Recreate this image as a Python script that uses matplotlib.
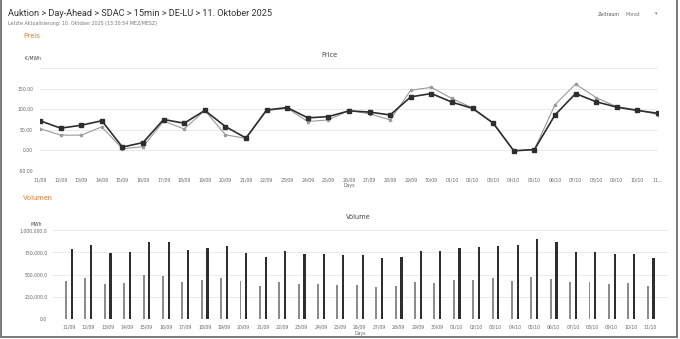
import matplotlib
matplotlib.use("Agg")
import matplotlib.pyplot as plt
from matplotlib.lines import Line2D
import numpy as np

days = ["11/09", "12/09", "13/09", "14/09", "15/09", "16/09", "17/09", "18/09",
        "19/09", "20/09", "21/09", "22/09", "23/09", "24/09", "25/09", "26/09",
        "27/09", "28/09", "29/09", "30/09", "01/10", "02/10", "03/10", "04/10",
        "05/10", "06/10", "07/10", "08/10", "09/10", "10/10", "11/10"]

# price, EUR/MWh
price_dark = [72, 54, 61, 72, 8, 19, 75, 66, 97, 58, 30, 98, 104, 79, 82, 96,
              93, 86, 130, 138, 117, 102, 66, -1, 2, 86, 138, 118, 105, 97, 90]
price_light = [53, 37, 37, 57, 4, 9, 71, 52, 97, 38, 29, 97, 102, 70, 74, 97,
               89, 74, 146, 153, 126, 103, 67, -1, 2, 111, 161, 128, 106, 98, 87]

# volume, MWh
vol_light = [432, 466, 398, 406, 492, 485, 417, 444, 462, 425, 376, 417, 395,
             395, 387, 387, 361, 372, 417, 406, 444, 444, 462, 432, 477, 451,
             421, 414, 398, 406, 372]
vol_dark = [790, 835, 744, 752, 868, 872, 778, 801, 820, 741, 699, 767, 729,
            737, 722, 722, 684, 695, 771, 767, 801, 812, 823, 831, 902, 868,
            759, 759, 737, 733, 688]

W, H = 680, 339
fig = plt.figure(figsize=(W / 100, H / 100), dpi=100)
plt.rcParams['font.family'] = ['DejaVu Sans']

def ax_at(x0, y0, x1, y1):
    # pixel box -> figure axes
    return fig.add_axes([x0 / W, 1 - y1 / H, (x1 - x0) / W, (y1 - y0) / H])

def tx(x, y, s, **kw):
    fig.text(x / W, 1 - y / H, s, **kw)

grid_c = "#e6e6e6"
lab_c = "#666666"
dark = "#2e2e2e"
light = "#8c8c8c"
orange = "#e8823e"
head = ["Roboto", "DejaVu Sans"]

# header
tx(8, 13, "Auktion > Day-Ahead > SDAC > 15min > DE-LU > 11. Oktober 2025",
   fontsize=6.6, color="#333333", va="center", family=head)
tx(8, 24, "Letzte Aktualisierung: 10. Oktober 2025 (13:30:54 MEZ/MESZ)",
   fontsize=3.4, color="#777777", va="center")
tx(598, 14, "Zeitraum", fontsize=3.4, color="#555555", va="center")
tx(625, 14, "Monat", fontsize=3.4, color="#777777", va="center")
tx(655, 14, "\u25be", fontsize=3.4, color="#777777", va="center")
tx(23, 37, "Preis", fontsize=5.4, color=orange, va="center", family=head)
tx(23, 199, "Volumen", fontsize=5.4, color=orange, va="center", family=head)

# price chart
ax = ax_at(40, 68, 658, 171)
x = np.arange(len(days))
ax.plot(x, price_light, color="#9a9a9a", lw=0.8, marker="o", ms=1.6, zorder=3)
ax.plot(x, price_dark, color=dark, lw=1.2, marker="s", ms=2.4, zorder=4)
ax.set_xlim(0, 30)
ax.set_ylim(-50, 200)
ax.set_yticks([-50, 0, 50, 100, 150, 200])
ax.set_yticklabels(["-50.00", "0.00", "50.00", "100.00", "150.00", ""])
ax.set_xticks(x)
ax.set_xticklabels(days[:-1] + ["11..."])
ax.grid(axis="y", color=grid_c, lw=0.6)
ax.set_axisbelow(True)
for s in ax.spines.values():
    s.set_visible(False)
ax.tick_params(length=0, labelsize=3.3, colors=lab_c, pad=5)
tx(25, 58, "\u20ac/MWh", fontsize=3.3, color="#444444", va="center")
tx(330, 55, "Price", fontsize=4.8, color="#444444", ha="center", va="center")
tx(349, 185, "Days", fontsize=3.3, color=lab_c, ha="center", va="center")

# volume chart
av = ax_at(53, 230.3, 668, 319)
av.bar(x - 0.15, np.array(vol_light) * 1000, width=0.1, color=light, zorder=3)
av.bar(x + 0.15, np.array(vol_dark) * 1000, width=0.115, color=dark, zorder=3)
av.set_xlim(-0.82, 30.9)
av.set_ylim(0, 1000000)
av.set_yticks([0, 250000, 500000, 750000, 1000000])
av.set_yticklabels(["0.0", "250,000.0", "500,000.0", "750,000.0", "1,000,000.0"])
av.set_xticks(x)
av.set_xticklabels(days)
av.grid(axis="y", color=grid_c, lw=0.6)
av.set_axisbelow(True)
for s in av.spines.values():
    s.set_visible(False)
av.tick_params(length=0, labelsize=3.3, colors=lab_c, pad=4)
tx(30, 224, "MWh", fontsize=3.3, color="#444444", va="center")
tx(358, 217, "Volume", fontsize=4.8, color="#444444", ha="center", va="center")
tx(360, 333, "Days", fontsize=3.3, color=lab_c, ha="center", va="center")

# screenshot frame
for xs, ys in [([1, 1], [0, 337]), ([676.5, 676.5], [0, 337]), ([1, 676.5], [336.5, 336.5])]:
    fig.add_artist(Line2D([v / W for v in xs], [1 - v / H for v in ys],
                          color="#7a7a7a", lw=1.4))

fig.savefig("out.png", dpi=100)
